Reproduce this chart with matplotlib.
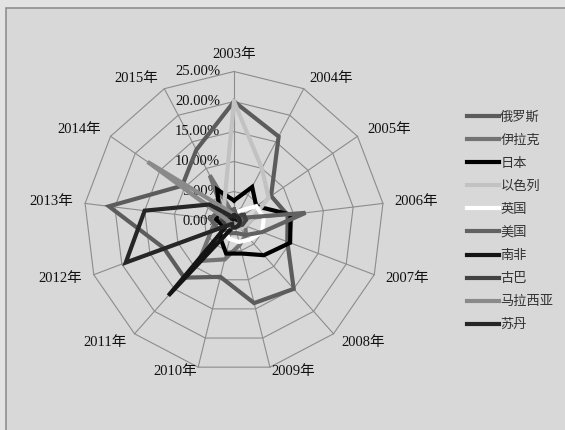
import numpy as np
import matplotlib.pyplot as plt
from matplotlib.patches import Rectangle

plt.rcParams['font.family'] = ['Liberation Serif', 'Noto Sans CJK SC']

years = ['2003年', '2004年', '2005年', '2006年', '2007年', '2008年', '2009年',
         '2010年', '2011年', '2012年', '2013年', '2014年', '2015年']
ticks = [0, 5, 10, 15, 20, 25]

countries = ['俄罗斯', '伊拉克', '日本', '以色列', '英国',
             '美国', '南非', '古巴', '马拉西亚', '苏丹']

# share of each year, in percent
russia = [20, 16, 7.5, 9, 9.5, 15, 14, 9.5, 12.5, 12.5, 21, 10.5, 13.5]
iraq = [1, 2, 1.5, 3, 2, 3, 4, 6.5, 8.8, 4, 3, 2, 8.7]
japan = [3.5, 6.5, 4.5, 9.5, 10, 7.5, 5.5, 5.5, 3.5, 2, 3, 3, 6]
israel = [20, 10, 7, 3, 2, 1.5, 1, 1, 1, 1, 1.5, 2, 3.5]
uk = [1, 2, 4.5, 5, 5, 4, 3.5, 3, 2.5, 1, 1, 1, 1]
usa = [2, 1, 1, 12, 5, 3, 2, 2, 2, 3, 4, 3, 2]
south_africa = [0.5, 0.5, 0.5, 1, 1, 1, 1, 1, 16.5, 1, 1, 1, 0.5]
cuba = [1, 1, 2, 2, 1.5, 1, 1, 1, 1, 1.5, 2, 2, 1]
malaysia = [1, 1, 1, 1, 1, 1, 1, 1, 1, 1, 1, 17.5, 2]
sudan = [1, 1, 1, 1, 1, 1, 1, 1, 0.5, 19.3, 15, 5, 1]

series = [russia, iraq, japan, israel, uk, usa, south_africa, cuba, malaysia, sudan]
colors = ['#5c5c5c', '#737373', '#000000', '#c2c2c2', '#ffffff',
          '#626262', '#141414', '#424242', '#8a8a8a', '#262626']

fig = plt.figure(figsize=(5.65, 4.30), dpi=100, facecolor='#e3e3e3')
# chart area background with its border
fig.patches.append(Rectangle((6 / 565, -0.05), 1.0, 0.9814 + 0.05,
                             transform=fig.transFigure, facecolor='#d8d8d8',
                             edgecolor='#8f8f8f', linewidth=1.2, zorder=-5))

ax = fig.add_axes([0.1487, 0.136, 0.531, 0.6977], projection='polar')
ax.set_theta_zero_location('N')
ax.set_theta_direction(-1)
ax.set_ylim(0, 25)
ax.set_axis_off()

n = len(years)
theta = np.arange(n) * 2 * np.pi / n
closed = np.append(theta, theta[0])

# polygon grid and spokes
for r in ticks[1:]:
    ax.plot(closed, [r] * (n + 1), color='#8c8c8c', lw=0.8, zorder=1, clip_on=False)
for t in theta:
    ax.plot([t, t], [0, 25], color='#8c8c8c', lw=0.8, zorder=1, clip_on=False)

for name, vals, c in zip(countries, series, colors):
    ax.plot(closed, vals + vals[:1], color=c, lw=3, label=name, zorder=3,
            solid_joinstyle='miter', clip_on=False)

for t, lab in zip(theta, years):
    s = np.sin(t)
    ha = 'center' if abs(s) < 0.1 else ('left' if s > 0 else 'right')
    r = 27.8 if abs(s) < 0.1 else 27
    if np.cos(t) < -0.9:
        r = 25.8
    ax.text(t, r, lab, ha=ha, va='center', fontsize=10.5, color='#111111')

for r in ticks:
    ax.annotate(f'{r:.2f}%', xy=(0, r), xytext=(-10, 0), textcoords='offset points',
                ha='right', va='center', fontsize=10.5, color='#111111', zorder=2)

fig.legend(loc='upper left', bbox_to_anchor=(462 / 565, 1 - 106 / 430),
           frameon=False, fontsize=9.5, handlelength=2.4, handletextpad=0.1,
           labelspacing=0.82, borderaxespad=0, labelcolor='#333333')

fig.savefig('out.png', dpi=100, facecolor=fig.get_facecolor())
